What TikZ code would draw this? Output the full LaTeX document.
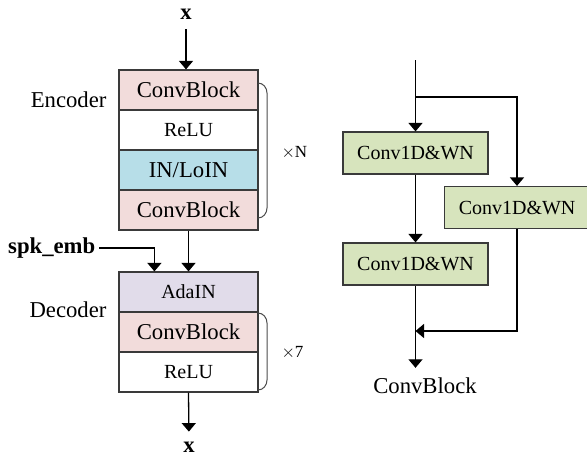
\documentclass[tikz,border=0pt]{standalone}
\usepackage{fontspec}
\setmainfont{Liberation Serif}
\usetikzlibrary{arrows.meta,calc}
\definecolor{convpink}{HTML}{F2DCDB}
\definecolor{normblue}{HTML}{B7DEE8}
\definecolor{adapurple}{HTML}{E1DCEA}
\definecolor{wngreen}{HTML}{D7E4BD}
\definecolor{edge}{HTML}{3A3A3A}
\newcommand{\bigtxt}{\fontsize{22.7}{26}\selectfont}
\newcommand{\midtxt}{\fontsize{20}{24}\selectfont}
\newcommand{\smalltxt}{\fontsize{17}{20}\selectfont}
\tikzset{
  layer/.style={draw=edge, line width=1.2pt, minimum width=139pt, minimum height=40pt, inner sep=0pt, anchor=center},
  wnbox/.style={draw=edge, line width=1.2pt, fill=wngreen, minimum width=145pt, minimum height=42pt, inner sep=0pt, font=\midtxt},
  arr/.style={line width=1.3pt, -{Triangle[width=14pt,length=8.5pt]}},
  ln/.style={line width=1.3pt},
  brace/.style={line width=1pt, draw=black!70},
}
\begin{document}
\begin{tikzpicture}[x=1pt,y=-1pt]
\useasboundingbox (0,0) rectangle (587,459);

% encoder stack
\node[layer, fill=convpink, font=\bigtxt] (e1) at (188.5,90) {ConvBlock};
\node[layer, fill=white, font=\midtxt] (e2) at (188.5,130) {ReLU};
\node[layer, fill=normblue, font=\bigtxt] (e3) at (188.5,170) {IN/LoIN};
\node[layer, fill=convpink, font=\bigtxt] (e4) at (188.5,210) {ConvBlock};
\node[font=\bigtxt, anchor=east] (enc) at (110,100) {Encoder};
\draw[brace] (258,83) to[out=0,in=90] (267,93) -- (267,208) to[out=-90,in=0] (258,218);
\node[font=\smalltxt, anchor=west] (xn) at (278,153) {$\times$N};

% decoder stack
\node[layer, fill=adapurple, font=\midtxt] (d1) at (188.5,292) {AdaIN};
\node[layer, fill=convpink, font=\bigtxt] (d2) at (188.5,332) {ConvBlock};
\node[layer, fill=white, font=\midtxt] (d3) at (188.5,372) {ReLU};
\node[font=\bigtxt, anchor=east] (dec) at (110,310) {Decoder};
\draw[brace] (258,313) to[out=0,in=90] (267,323) -- (267,380) to[out=-90,in=0] (258,390);
\node[font=\smalltxt, anchor=west] (x7) at (278,353) {$\times$7};

% inputs and outputs
\node[font=\bigtxt\bfseries, inner sep=0pt] (xin) at (186,14) {x};
\node[font=\bigtxt\bfseries, inner sep=0pt] (xout) at (189,447) {x};
\node[font=\bigtxt\bfseries, inner sep=0pt, anchor=west] (spk) at (8,248) {spk\_emb};
\draw[arr, shorten <=10pt] (xin.south) -- (e1.north -| xin.south);
\draw[arr] (e4.south) -- (d1.north);
\draw[arr, shorten <=4pt] (spk.east) -| ($(d1.north west)+(36,0)$);
\draw[arr, shorten >=10pt] (d3.south) -- (xout.north);

% ConvBlock internals
\coordinate (top) at (415.5,60);
\coordinate (split) at (415.5,97);
\coordinate (rcol) at (517,0);
\node[wnbox] (c1) at (415.5,153) {Conv1D\&WN};
\node[wnbox, anchor=west] (c2) at (444,207.5) {Conv1D\&WN};
\node[wnbox] (c3) at (415.5,264) {Conv1D\&WN};
\coordinate (join) at (415.5,331);
\node[font=\bigtxt, inner sep=0pt] (cb) at (425,386) {ConvBlock};
\draw[arr] (top) -- (c1.north);
\draw[arr] (split) -| (c2.north -| rcol);
\draw[arr] (c1.south) -- (c3.north);
\draw[ln] (c3.south) -- (join);
\draw[arr] (c2.south -| rcol) |- (join);
\draw[arr, shorten >=10pt] (join) -- (cb.north -| join);
\end{tikzpicture}
\end{document}
